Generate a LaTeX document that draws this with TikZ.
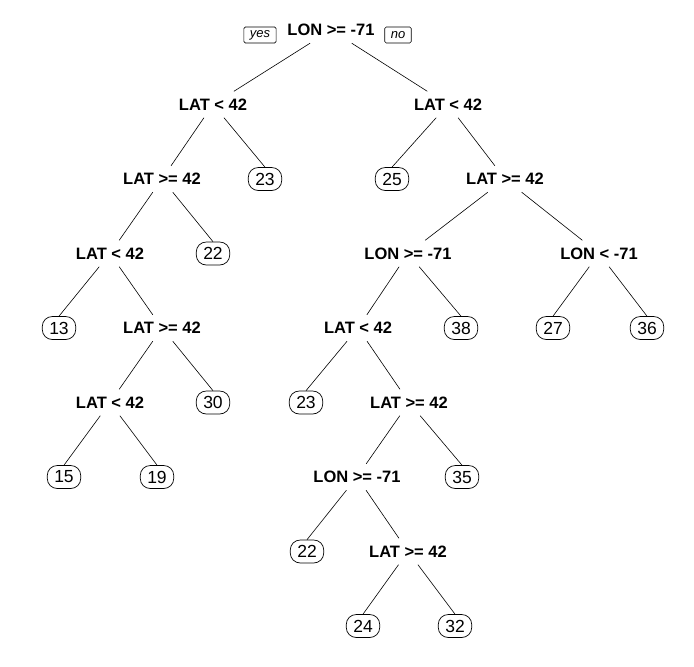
\documentclass[tikz,border=0pt]{standalone}
\usepackage{fontspec}
\setmainfont{Liberation Sans}
\usepackage{tikz}

\begin{document}
\begin{tikzpicture}[x=1pt,y=-1pt,
    splitnode/.style={inner xsep=2pt,inner ysep=0pt,minimum height=26pt,
      font=\fontsize{16.5}{19}\selectfont\bfseries},
    leafnode/.style={draw,line width=0.7pt,rounded corners=10pt,inner xsep=7pt,
      inner ysep=0pt,minimum height=23pt,font=\fontsize{17.5}{20}\selectfont},
    yesno/.style={draw,line width=0.6pt,rounded corners=1.5pt,inner xsep=6pt,
      inner ysep=0pt,minimum height=16pt,font=\fontsize{13}{15}\selectfont\itshape},
    branch/.style={line width=0.6pt}]
  \useasboundingbox (0,0) rectangle (694,667);

  \node[splitnode] (root) at (331,30) {LON >= -71};
  \node[yesno] (yes) at (260,35) {yes};
  \node[yesno] (no) at (398,35) {no};

  \node[splitnode] (a) at (213,104.5) {LAT < 42};
  \node[splitnode] (b) at (448,104.5) {LAT < 42};

  \node[splitnode] (c) at (162,179) {LAT >= 42};
  \node[leafnode] (l23a) at (265,179) {23};
  \node[leafnode] (l25) at (392,179) {25};
  \node[splitnode] (d) at (505,179) {LAT >= 42};

  \node[splitnode] (e) at (110,253.5) {LAT < 42};
  \node[leafnode] (l22a) at (213,253.5) {22};
  \node[splitnode] (f) at (408,253.5) {LON >= -71};
  \node[splitnode] (g) at (599,253.5) {LON < -71};

  \node[leafnode] (l13) at (59,328) {13};
  \node[splitnode] (h) at (162,328) {LAT >= 42};
  \node[splitnode] (i) at (358,328) {LAT < 42};
  \node[leafnode] (l38) at (461,328) {38};
  \node[leafnode] (l27) at (553,328) {27};
  \node[leafnode] (l36) at (647,328) {36};

  \node[splitnode] (j) at (110,402.5) {LAT < 42};
  \node[leafnode] (l30) at (213,402.5) {30};
  \node[leafnode] (l23b) at (306,402.5) {23};
  \node[splitnode] (k) at (409,402.5) {LAT >= 42};

  \node[leafnode] (l15) at (64,477) {15};
  \node[leafnode] (l19) at (157,477) {19};
  \node[splitnode] (m) at (357,477) {LON >= -71};
  \node[leafnode] (l35) at (462,477) {35};

  \node[leafnode] (l22b) at (307,551.5) {22};
  \node[splitnode] (n) at (408,551.5) {LAT >= 42};

  \node[leafnode] (l24) at (363,626) {24};
  \node[leafnode] (l32) at (455,626) {32};

  \draw[branch] (root) -- (a);
  \draw[branch] (root) -- (b);
  \draw[branch] (a) -- (c);
  \draw[branch] (a) -- (l23a.north);
  \draw[branch] (b) -- (l25.north);
  \draw[branch] (b) -- (d);
  \draw[branch] (c) -- (e);
  \draw[branch] (c) -- (l22a.north);
  \draw[branch] (d) -- (f);
  \draw[branch] (d) -- (g);
  \draw[branch] (e) -- (l13.north);
  \draw[branch] (e) -- (h);
  \draw[branch] (f) -- (i);
  \draw[branch] (f) -- (l38.north);
  \draw[branch] (g) -- (l27.north);
  \draw[branch] (g) -- (l36.north);
  \draw[branch] (h) -- (j);
  \draw[branch] (h) -- (l30.north);
  \draw[branch] (i) -- (l23b.north);
  \draw[branch] (i) -- (k);
  \draw[branch] (j) -- (l15.north);
  \draw[branch] (j) -- (l19.north);
  \draw[branch] (k) -- (m);
  \draw[branch] (k) -- (l35.north);
  \draw[branch] (m) -- (l22b.north);
  \draw[branch] (m) -- (n);
  \draw[branch] (n) -- (l24.north);
  \draw[branch] (n) -- (l32.north);
\end{tikzpicture}
\end{document}
